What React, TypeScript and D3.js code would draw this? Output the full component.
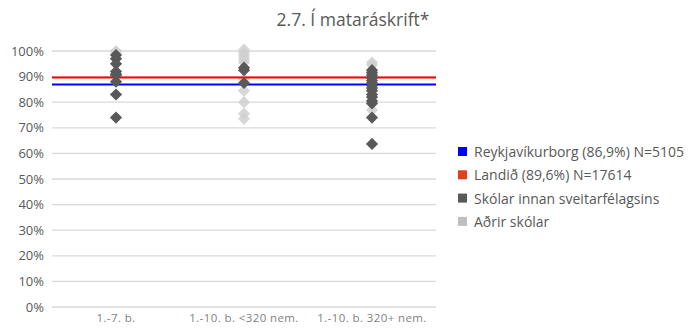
import React from "react";
import * as d3 from "d3";

const categories = ["1.-7. b.", "1.-10. b. <320 nem.", "1.-10. b. 320+ nem."];
const ownSchools: number[][] = [
  [98.4, 97, 95, 92, 91, 90.5, 88, 83, 74],
  [93.5, 92.5, 87.5],
  [92.5, 91.5, 90.5, 89.5, 88.5, 87.5, 86.5, 85.5, 84.5, 83, 82, 80.5, 79.5, 74, 63.7],
];
const otherSchools: number[][] = [
  [100, 99.5],
  [100.5, 99.5, 98.5, 97.5, 96.5, 95.5, 89, 84.5, 80, 75.5, 73.5],
  [95.5, 94.5, 77],
];
const reykjavik = 86.9;
const landid = 89.6;
const yTicks = [0, 10, 20, 30, 40, 50, 60, 70, 80, 90, 100];
const legendLabels = [
  "Reykjavíkurborg (86,9%) N=5105",
  "Landið (89,6%) N=17614",
  "Skólar innan sveitarfélagsins",
  "Aðrir skólar",
];
const legendColors = ["#0000ff", "#e0401c", "#595959", "#bfbfbf"];

const W = 693;
const H = 328;
const font = "'Open Sans', 'Noto Sans', sans-serif";

export default function App() {
  const x = d3.scaleBand().domain(categories).range([52, 436]);
  const y = d3.scaleLinear().domain([0, 100]).range([307, 51]);
  const diamond = d3.symbol().type(d3.symbolDiamond2).size(95)();

  return (
    <svg width={W} height={H} style={{ position: "absolute", left: 0, top: 0 }} fontFamily={font}>
      <rect width={W} height={H} fill="#fff" />
      <text x={353} y={26} textAnchor="middle" fontSize={17.5} fill="#595959">
        2.7. Í mataráskrift*
      </text>
      {yTicks.map((t) => (
        <g key={t}>
          <line x1={52} x2={436} y1={y(t)} y2={y(t)} stroke="#d9d9d9" strokeWidth={1.3} />
          <text x={44} y={y(t) + 4.5} textAnchor="end" fontSize={13} fill="#595959">
            {t}%
          </text>
        </g>
      ))}
      {categories.map((c) => (
        <text key={c} x={x(c)! + x.bandwidth() / 2} y={322} textAnchor="middle" fontSize={11.5} letterSpacing={0.4} fill="#7f7f7f">
          {c}
        </text>
      ))}
      {categories.map((c, i) =>
        otherSchools[i].map((v, j) => (
          <path key={`o${i}-${j}`} d={diamond!} transform={`translate(${x(c)! + x.bandwidth() / 2},${y(v)})`} fill="#d0d0d0" opacity={0.85} />
        ))
      )}
      <line x1={52} x2={436} y1={y(landid)} y2={y(landid)} stroke="#ff0000" strokeWidth={2} />
      <line x1={52} x2={436} y1={y(reykjavik)} y2={y(reykjavik)} stroke="#0000ff" strokeWidth={2} />
      {categories.map((c, i) =>
        ownSchools[i].map((v, j) => (
          <path key={`s${i}-${j}`} d={diamond!} transform={`translate(${x(c)! + x.bandwidth() / 2},${y(v)})`} fill="#595959" />
        ))
      )}
      {legendLabels.map((l, i) => (
        <g key={l} transform={`translate(0,${152 + i * 23.3})`}>
          <rect x={458} y={-5} width={9} height={9} fill={legendColors[i]} />
          <text x={474} y={5} fontSize={14} fill="#595959">
            {l}
          </text>
        </g>
      ))}
    </svg>
  );
}
